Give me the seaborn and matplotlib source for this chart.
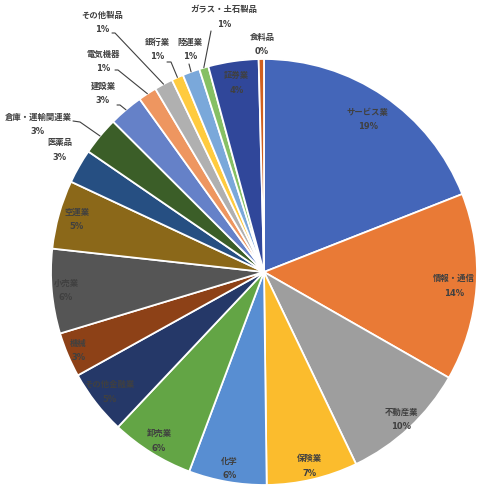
import numpy as np
import matplotlib
matplotlib.use("Agg")
import matplotlib.pyplot as plt
import seaborn as sns

# ---- data ----
categories = ["サービス業", "情報・通信", "不動産業", "保険業", "化学", "卸売業",
              "その他金融業", "機械", "小売業", "空運業", "医薬品", "倉庫・運輸関連業",
              "建設業", "電気機器", "その他製品", "銀行業", "陸運業", "ガラス・土石製品",
              "証券業", "食料品"]
shares = [19.0, 14.2, 9.6, 6.9, 5.9, 6.3, 4.9, 3.4, 6.4, 5.2, 2.6, 2.9,
          2.6, 1.4, 1.4, 0.9, 1.3, 0.7, 3.8, 0.4]
colors = ["#4466B9", "#E97A36", "#9E9E9E", "#FBBC2D", "#588ED2", "#63A545",
          "#253868", "#8D4117", "#555555", "#8B6819", "#264F82", "#3B5E28",
          "#6581C8", "#EE9660", "#B0B0B0", "#FFCB3F", "#7AA8DA", "#86C064",
          "#30479A", "#D0601E"]

# ---- layout (pixels of the 484x497 canvas) ----
W, H = 484, 497
CX, CY, R = 264, 272, 213

inside_radius = {"サービス業": 0.865, "情報・通信": 0.895, "不動産業": 0.945, "保険業": 0.935,
                 "化学": 0.937, "卸売業": 0.934, "その他金融業": 0.918, "機械": 0.946,
                 "小売業": 0.934, "空運業": 0.913, "証券業": 0.897}
# outside labels: centre of name line (px), leader path start points (px)
outside_label = {"医薬品": (60, 143), "倉庫・運輸関連業": (38, 117), "建設業": (103, 86),
                 "電気機器": (103, 54), "その他製品": (102, 15), "銀行業": (157, 42),
                 "陸運業": (190, 42), "ガラス・土石製品": (224, 10), "食料品": (262, 37)}
leaders = {"倉庫・運輸関連業": [(73, 121), (80, 122)],
           "建設業": [(117, 105), (120, 105)],
           "電気機器": [(115, 70), (118, 70)],
           "その他製品": [(112, 33), (115, 33)],
           "銀行業": [(167, 62), (171, 62)],
           "陸運業": [(189, 64)],
           "ガラス・土石製品": [(211, 31)]}

sns.set_theme(style="white")
plt.rcParams["font.family"] = ["Noto Sans CJK JP", "DejaVu Sans"]

fig = plt.figure(figsize=(W / 100, H / 100), dpi=100)
ax = fig.add_axes([0, 0, 1, 1])

wedges, _ = ax.pie(shares, colors=colors, startangle=90, counterclock=False,
                   radius=1.0, center=(0, 0),
                   wedgeprops=dict(edgecolor="white", linewidth=1.3))

ax.set_xlim(-CX / R, (W - CX) / R)
ax.set_ylim(-(H - CY) / R, CY / R)
ax.set_aspect("auto")
ax.axis("off")


def P(px, py):
    return ((px - CX) / R, (CY - py) / R)


total = sum(shares)
txt = dict(fontsize=6, fontweight="bold", color="#404040", ha="center", va="center")
ptxt = dict(txt, family=["DejaVu Sans"])
dy_line = 14.5 / R

for w, name, v in zip(wedges, categories, shares):
    pct = f"{round(v / total * 100):d}%"
    mid = np.deg2rad((w.theta1 + w.theta2) / 2)
    if name in inside_radius:
        r = inside_radius[name]
        x, y = r * np.cos(mid), r * np.sin(mid)
        ax.text(x, y + dy_line / 2, name, **txt)
        ax.text(x, y - dy_line / 2, pct, **ptxt)
    else:
        x, y = P(*outside_label[name])
        ax.text(x, y, name, **txt)
        ax.text(x, y - dy_line, pct, **ptxt)
        if name in leaders:
            pts = [P(*p) for p in leaders[name]]
            pts.append((np.cos(mid), np.sin(mid)))
            xs, ys = zip(*pts)
            ax.plot(xs, ys, color="#404040", linewidth=0.8)

fig.savefig("out.png", dpi=100, facecolor="white")
